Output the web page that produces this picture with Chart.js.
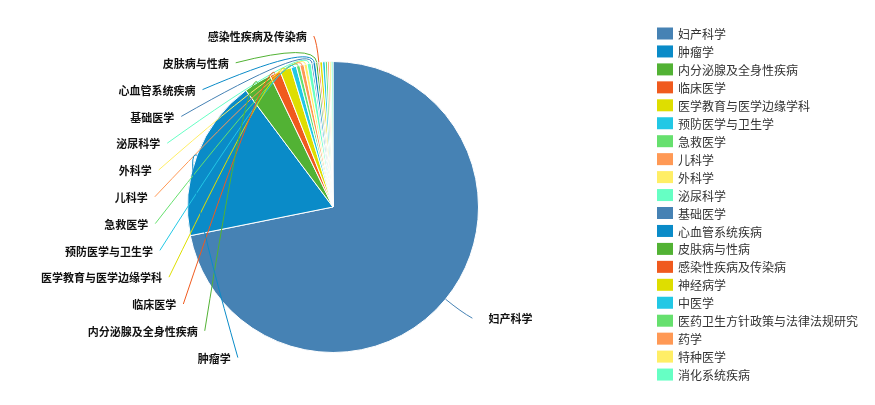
<!DOCTYPE html>
<html>
<head>
<meta charset="utf-8">
<script src="https://cdn.jsdelivr.net/npm/chart.js@4/dist/chart.umd.min.js"></script>
<style>
  html, body { margin: 0; padding: 0; background: #fff; }
  #c { display: block; }
</style>
</head>
<body>
<canvas id="c" width="875" height="405"></canvas>
<script>
// ---- data ----
const categories = [
  '妇产科学', '肿瘤学', '内分泌腺及全身性疾病', '临床医学', '医学教育与医学边缘学科',
  '预防医学与卫生学', '急救医学', '儿科学', '外科学', '泌尿科学',
  '基础医学', '心血管系统疾病', '皮肤病与性病', '感染性疾病及传染病', '神经病学',
  '中医学', '医药卫生方针政策与法律法规研究', '药学', '特种医学', '消化系统疾病'
];
const values = [1434, 358, 62, 24, 25, 12, 8, 9, 7, 9, 4, 6, 5, 4, 6, 6, 5, 4, 4, 4];
const palette = ['#4682b4', '#0a8bc8', '#52b234', '#f05a1e', '#dede00',
                 '#22c8e5', '#66e06e', '#ff9955', '#ffee66', '#66ffc4'];
const labeledCount = 14;

const colors = categories.map((_, i) => palette[i % palette.length]);
const FONT = '"Noto Sans CJK SC", "Noto Sans", sans-serif';

const labelPlugin = {
  id: 'pieLabels',
  afterDatasetsDraw(chart) {
    const ctx = chart.ctx;
    const meta = chart.getDatasetMeta(0);
    const arcs = meta.data;
    if (!arcs.length) return;
    const cx = arcs[0].x, cy = arcs[0].y, r = arcs[0].outerRadius;
    const a = r + 33;
    const items = [];
    for (let i = 0; i < Math.min(labeledCount, arcs.length); i++) {
      const arc = arcs[i];
      const mid = (arc.startAngle + arc.endAngle) / 2;
      items.push({ i, mid, cos: Math.cos(mid), sin: Math.sin(mid), y0: cy + Math.sin(mid) * (r + 30) });
    }
    const left = items.filter(d => d.cos < 0).sort((p, q) => p.y0 - q.y0);
    const right = items.filter(d => d.cos >= 0);
    const step = 26.8;
    const top = cy - 171;
    left.forEach((d, k) => { d.y = top + k * step; d.side = -1; });
    right.forEach(d => { d.y = d.y0; d.side = 1; });
    const all = left.concat(right);
    ctx.save();
    all.forEach(d => {
      const dyS = d.y - cy;
      const dy = Math.abs(dyS);
      const b = dyS < 0 ? r + 26.5 : r + 32.5;
      const t = Math.max(0, 1 - (dy / b) * (dy / b));
      const ax = cx + d.side * a * Math.sqrt(t);
      const p0x = cx + d.cos * r, p0y = cy + d.sin * r;
      const p1x = cx + d.cos * (r + 20), p1y = cy + d.sin * (r + 20);
      ctx.beginPath();
      ctx.moveTo(p0x, p0y);
      ctx.quadraticCurveTo(p1x, p1y, ax, d.y);
      ctx.strokeStyle = colors[d.i];
      ctx.lineWidth = 1;
      ctx.stroke();
      ctx.font = 'bold 11px ' + FONT;
      ctx.fillStyle = '#111';
      ctx.textBaseline = 'middle';
      if (d.side < 0) {
        ctx.textAlign = 'right';
        ctx.fillText(categories[d.i], ax - 7, d.y + 1);
      } else {
        ctx.textAlign = 'left';
        ctx.fillText(categories[d.i], ax + 16, d.y + 1);
      }
    });
    ctx.restore();
  },
  afterDraw(chart) {
    const ctx = chart.ctx;
    ctx.save();
    const x0 = 657, y0 = 33.5, rowH = 17.95;
    categories.forEach((name, i) => {
      const yc = y0 + i * rowH;
      ctx.fillStyle = colors[i];
      ctx.fillRect(x0, yc - 6, 16, 12);
      ctx.font = '12px ' + FONT;
      ctx.fillStyle = '#333';
      ctx.textAlign = 'left';
      ctx.textBaseline = 'middle';
      ctx.fillText(name, x0 + 21, yc + 1);
    });
    ctx.restore();
  }
};

new Chart(document.getElementById('c'), {
  type: 'pie',
  data: {
    labels: categories,
    datasets: [{
      data: values,
      backgroundColor: colors,
      borderColor: '#ffffff',
      borderWidth: 1
    }]
  },
  options: {
    responsive: false,
    devicePixelRatio: 1,
    animation: false,
    layout: { padding: { top: 61, bottom: 52, left: 187, right: 396 } },
    plugins: {
      legend: { display: false },
      tooltip: { enabled: false }
    }
  },
  plugins: [labelPlugin]
});
</script>
</body>
</html>
